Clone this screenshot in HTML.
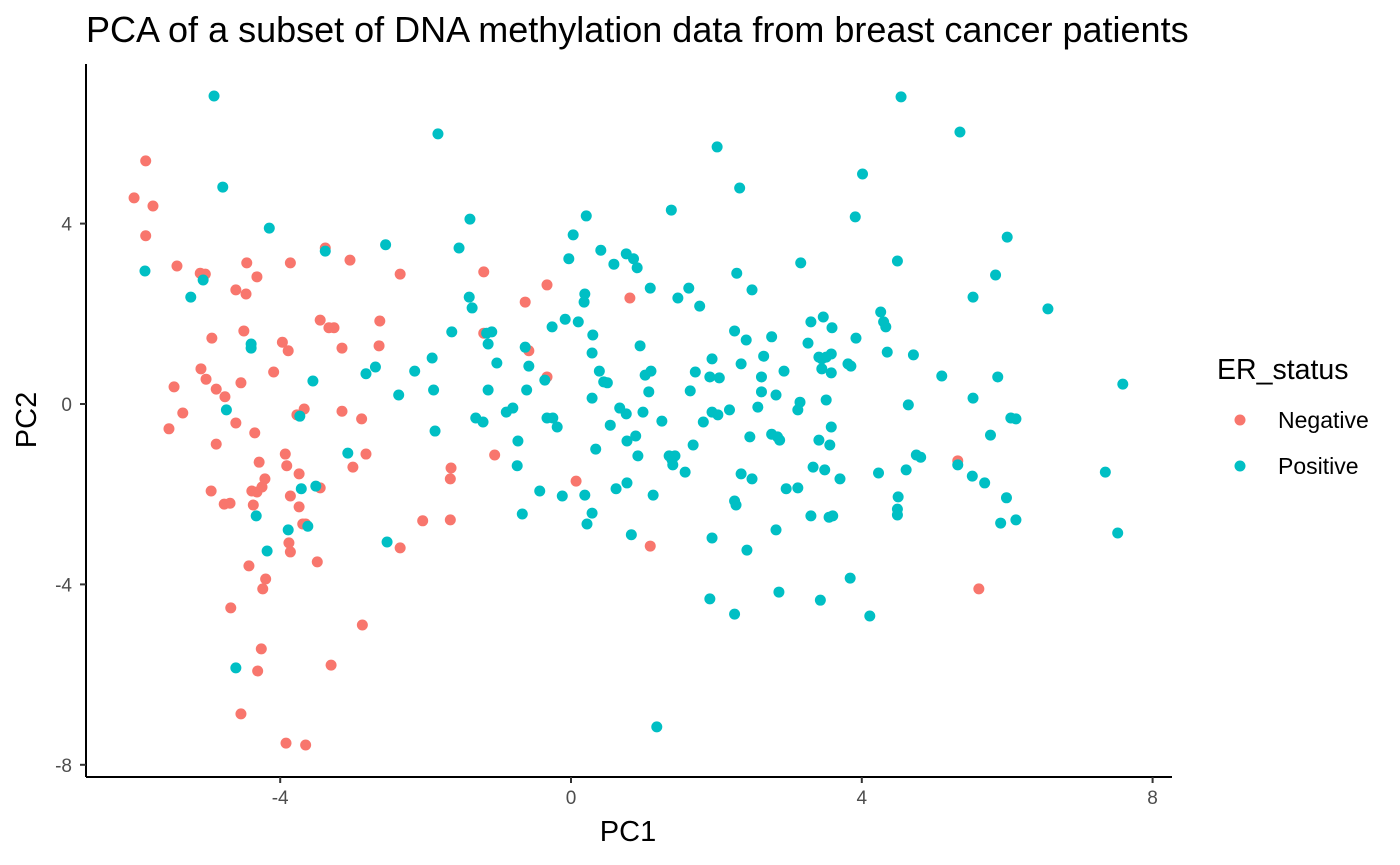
<!DOCTYPE html>
<html><head><meta charset="utf-8"><style>
body{margin:0;background:#fff;}
svg{display:block;font-family:"Liberation Sans",sans-serif;}
</style></head><body>
<svg id="chart" width="1400" height="865" viewBox="0 0 1400 865" xmlns="http://www.w3.org/2000/svg">
<text x="86" y="42" font-size="36" fill="#000">PCA of a subset of DNA methylation data from breast cancer patients</text>
<g id="points"></g>
<g id="axes"></g>
<text x="628" y="841" font-size="29" text-anchor="middle">PC1</text>
<text transform="translate(36,420) rotate(-90)" font-size="29" text-anchor="middle">PC2</text>
<g>
<text x="1217" y="379" font-size="28.5">ER_status</text>
<circle cx="1240" cy="420" r="5.5" fill="#F8766D"/>
<text x="1278" y="428" font-size="23">Negative</text>
<circle cx="1240" cy="466" r="5.5" fill="#00BFC4"/>
<text x="1278" y="474" font-size="23">Positive</text>
</g>
</svg>
<script>
const xTicks=[-4,0,4,8];
const yTicks=[-8,-4,0,4];
const negX=[-6.01,-5.85,-5.75,-5.85,-5.42,-5.10,-5.03,-4.46,-4.32,-4.61,-4.47,-4.94,-4.50,-5.09,-5.02,-5.46,-4.88,-4.76,-4.54,-4.09,-5.34,-5.53,-4.61,-4.88,-4.35,-4.29,-3.97,-3.89,-3.86,-3.45,-3.38,-3.33,-3.26,-3.04,-3.15,-2.63,-2.35,-2.64,-3.15,-2.88,-3.67,-3.77,-3.93,-3.91,-3.74,-3.86,-4.21,-4.25,-4.39,-4.32,-4.95,-4.77,-4.69,-4.37,-3.74,-3.45,-3.00,-2.82,-3.69,-3.65,-3.88,-3.86,-3.49,-4.43,-4.20,-4.24,-4.68,-2.87,-4.26,-4.31,-3.30,-4.54,-3.92,-3.65,-2.04,-1.66,-1.66,-1.65,-2.35,-1.20,-1.20,-1.05,-0.63,-0.58,-0.33,-0.33,0.07,0.81,1.09,5.32,5.61];
const negY=[4.57,5.39,4.39,3.73,3.06,2.90,2.88,3.13,2.82,2.53,2.44,1.46,1.62,0.78,0.55,0.38,0.33,0.16,0.47,0.71,-0.20,-0.55,-0.42,-0.89,-0.64,-1.29,1.37,1.18,3.13,1.86,3.46,1.69,1.69,3.19,1.24,1.84,2.88,1.29,-0.16,-0.33,-0.11,-0.24,-1.11,-1.37,-1.55,-2.04,-1.66,-1.84,-1.93,-1.95,-1.93,-2.22,-2.20,-2.24,-2.28,-1.86,-1.40,-1.11,-2.66,-2.66,-3.08,-3.28,-3.50,-3.59,-3.88,-4.10,-4.52,-4.90,-5.43,-5.92,-5.79,-6.87,-7.52,-7.56,-2.59,-2.57,-1.66,-1.42,-3.19,1.57,2.93,-1.13,2.26,1.18,2.64,0.60,-1.71,2.35,-3.15,-1.26,-4.10];
const posX=[-4.91,-4.79,-5.86,-5.23,-5.06,-4.15,-4.40,-4.40,-4.74,-3.55,-3.73,-3.71,-3.51,-3.62,-3.89,-4.33,-4.18,-4.61,-3.38,-2.55,-2.69,-2.82,-2.37,-3.07,-2.53,-2.15,-1.91,-1.89,-1.87,-1.83,-1.64,-1.54,-1.39,-1.40,-1.36,-1.31,-1.21,-1.16,-1.14,-1.09,-1.14,-1.02,-0.89,-0.80,-0.73,-0.74,-0.67,-0.63,-0.58,-0.61,-0.36,-0.43,-0.33,-0.25,-0.19,-0.26,-0.08,-0.03,0.03,0.10,-0.12,0.21,0.19,0.18,0.19,0.22,0.29,0.30,0.29,0.39,0.41,0.29,0.34,0.45,0.50,0.54,0.59,0.62,0.76,0.86,0.91,0.67,0.76,0.77,0.77,0.83,0.89,0.92,0.95,1.02,1.10,1.07,1.09,0.99,1.13,1.18,1.25,1.38,1.35,1.39,1.43,1.40,1.47,1.57,1.62,1.64,1.68,1.71,1.77,1.82,1.94,1.91,1.94,1.91,1.94,2.04,2.02,2.01,2.18,2.25,2.27,2.25,2.28,2.32,2.34,2.34,2.25,2.41,2.49,2.46,2.49,2.42,2.57,2.62,2.62,2.65,2.76,2.76,2.84,2.87,2.82,2.86,2.82,2.93,2.96,3.16,3.12,3.12,3.15,3.26,3.30,3.33,3.30,3.41,3.41,3.45,3.45,3.47,3.51,3.51,3.49,3.43,3.55,3.60,3.58,3.59,3.58,3.58,3.56,3.70,3.81,3.85,3.92,3.84,3.91,4.01,4.11,4.23,4.26,4.30,4.33,4.35,4.49,4.54,4.50,4.49,4.49,4.64,4.61,4.71,4.75,4.81,5.10,5.32,5.35,5.52,5.53,5.53,5.69,5.77,5.84,5.87,5.91,5.99,6.00,6.05,6.12,6.12,6.56,7.35,7.52,7.59];
const posY=[6.83,4.81,2.95,2.37,2.75,3.90,1.33,1.24,-0.13,0.51,-0.27,-1.88,-1.82,-2.71,-2.79,-2.48,-3.26,-5.85,3.39,3.53,0.82,0.67,0.20,-1.09,-3.06,0.73,1.02,0.31,-0.60,5.99,1.60,3.46,4.10,2.37,2.13,-0.31,-0.40,1.57,1.33,1.60,0.31,0.91,-0.18,-0.09,-0.82,-1.37,-2.44,1.26,0.84,0.31,0.53,-1.93,-0.31,-0.31,-0.51,1.71,1.88,3.22,3.75,1.82,-2.04,4.17,2.44,2.26,-2.02,-2.66,-2.42,1.53,1.13,0.73,3.41,0.13,-1.00,0.49,0.47,-0.47,3.10,-1.88,3.33,3.22,3.02,-0.09,-0.22,-0.82,-1.75,-2.90,-0.71,-1.15,1.29,0.64,0.73,0.27,2.57,-0.18,-2.02,-7.16,-0.38,4.30,-1.15,-1.24,-1.15,-1.35,2.35,-1.51,2.57,0.29,-0.91,0.71,2.17,-0.40,1.00,0.60,-2.97,-4.32,-0.18,0.58,-0.24,5.70,-0.13,1.62,-2.24,-2.15,2.90,4.79,0.89,-1.55,-4.66,1.42,2.53,-0.73,-1.66,-3.24,-0.07,0.60,0.27,1.06,1.49,-0.67,-0.73,-0.80,-2.79,-4.17,0.20,0.73,-1.88,3.13,-0.13,-1.86,0.04,1.35,1.82,-1.40,-2.48,-0.80,1.04,1.00,0.78,1.93,1.04,0.09,-1.46,-4.35,-2.51,-2.48,1.11,1.69,0.69,-0.51,-0.91,-1.66,0.89,0.84,1.46,-3.86,4.15,5.10,-4.70,-1.53,2.04,1.82,1.71,1.15,3.17,6.81,-2.06,-2.33,-2.46,-0.02,-1.46,1.09,-1.13,-1.18,0.62,-1.35,6.03,-1.60,2.37,0.13,-1.75,-0.69,2.86,0.60,-2.64,-2.08,3.70,-0.31,-0.33,-2.57,2.11,-1.51,-2.86,0.44];

const NS="http://www.w3.org/2000/svg";
const X0=86,X1=1172,Y0=64,Y1=777;
function sx(v){return 571+v*72.7;}
function sy(v){return 404-v*45.1;}
const pts=document.getElementById('points');
function drawSeries(xs,ys,color,name){
  for(let i=0;i<xs.length;i++){
    const c=document.createElementNS(NS,'circle');
    c.setAttribute('cx',sx(xs[i]));c.setAttribute('cy',sy(ys[i]));
    c.setAttribute('r',5.5);c.setAttribute('fill',color);
    
    
    pts.appendChild(c);
  }
}
drawSeries(negX,negY,'#F8766D','point-negative');
drawSeries(posX,posY,'#00BFC4','point-positive');
const ax=document.getElementById('axes');
function line(x1,y1,x2,y2,w,col){
  const l=document.createElementNS(NS,'line');
  l.setAttribute('x1',x1);l.setAttribute('y1',y1);l.setAttribute('x2',x2);l.setAttribute('y2',y2);
  l.setAttribute('stroke',col);l.setAttribute('stroke-width',w);
  ax.appendChild(l);return l;
}
const xl=line(X0,Y1,X1,Y1,2,'#000');


const yl=line(X0,Y0,X0,Y1,2,'#000');


xTicks.forEach(t=>{
  const tk=line(sx(t),Y1,sx(t),Y1+6,2,'#333');
  
  
  const tx=document.createElementNS(NS,'text');
  tx.setAttribute('x',sx(t));tx.setAttribute('y',Y1+27);tx.setAttribute('text-anchor','middle');
  tx.setAttribute('font-size','19');tx.setAttribute('fill','#4d4d4d');tx.textContent=t;
  
  
  ax.appendChild(tx);
});
yTicks.forEach(t=>{
  const tk=line(X0-6,sy(t),X0,sy(t),2,'#333');
  
  
  const tx=document.createElementNS(NS,'text');
  tx.setAttribute('x',72);tx.setAttribute('y',sy(t)+7);tx.setAttribute('text-anchor','end');
  tx.setAttribute('font-size','19');tx.setAttribute('fill','#4d4d4d');tx.textContent=t;
  
  
  ax.appendChild(tx);
});
</script>
</body></html>
